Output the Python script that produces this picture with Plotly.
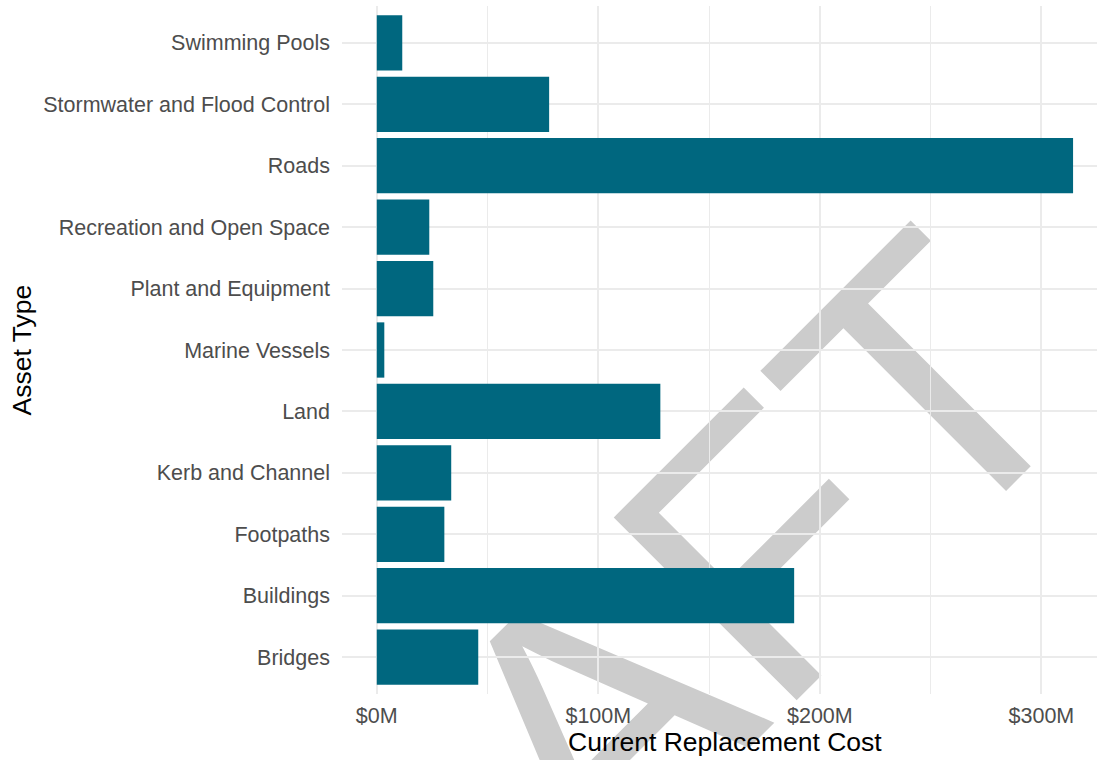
import plotly.graph_objects as go

# Asset register summary: current replacement cost by asset type ($ millions)
asset_types = [
    "Bridges",
    "Buildings",
    "Footpaths",
    "Kerb and Channel",
    "Land",
    "Marine Vessels",
    "Plant and Equipment",
    "Recreation and Open Space",
    "Roads",
    "Stormwater and Flood Control",
    "Swimming Pools",
]
replacement_cost_m = [45.8, 188.4, 30.5, 33.6, 128.0, 3.4, 25.5, 23.7, 314.3, 77.8, 11.5]

x_tick_values = [0, 100, 200, 300]
x_tick_labels = ["$0M", "$100M", "$200M", "$300M"]
x_minor_values = [50, 150, 250]

W, H = 1097, 760
PANEL_L, PANEL_R, PANEL_T, PANEL_B = 341.7, 1097, 6, 694
PANEL_W = PANEL_R - PANEL_L
PANEL_H = PANEL_B - PANEL_T


def px_to_paper(px, py):
    return (px - PANEL_L) / PANEL_W, (PANEL_B - py) / PANEL_H


FONT = "Liberation Sans, Arial, Helvetica, sans-serif"
BAR_COLOR = "#00677F"
GRID = "#EBEBEB"

fig = go.Figure(
    go.Bar(
        x=replacement_cost_m,
        y=asset_types,
        orientation="h",
        marker=dict(color=BAR_COLOR, line=dict(width=0)),
        width=0.9,
        hoverinfo="x+y",
    )
)

# watermark behind the panel grid
wx, wy = px_to_paper(539, 723)
fig.add_shape(
    type="rect",
    xref="paper",
    yref="paper",
    x0=wx - 0.001,
    x1=wx + 0.001,
    y0=wy - 0.001,
    y1=wy + 0.001,
    line=dict(width=0),
    fillcolor="rgba(0,0,0,0)",
    layer="below",
    label=dict(
        text="DRAFT",
        textangle=-45,
        textposition="middle center",
        font=dict(family=FONT, size=376, color="#CCCCCC"),
    ),
)

tx, ty = px_to_paper(724.4, 742)
ax_x, ax_y = px_to_paper(22, 350)

fig.update_layout(
    width=W,
    height=H,
    margin=dict(l=PANEL_L, r=W - PANEL_R, t=PANEL_T, b=H - PANEL_B, pad=0),
    paper_bgcolor="white",
    plot_bgcolor="rgba(0,0,0,0)",
    showlegend=False,
    bargap=0.1,
    font=dict(family=FONT, color="#4D4D4D"),
    xaxis=dict(
        range=[-15.7, 325.1],
        tickvals=x_tick_values,
        ticktext=x_tick_labels,
        showgrid=True,
        gridcolor=GRID,
        gridwidth=2,
        zeroline=False,
        showline=False,
        ticks="",
        ticklabelstandoff=6,
        tickfont=dict(family=FONT, size=21.5, color="#4D4D4D"),
        minor=dict(tickvals=x_minor_values, showgrid=True, gridcolor=GRID, gridwidth=1),
        fixedrange=True,
    ),
    yaxis=dict(
        type="category",
        categoryorder="array",
        categoryarray=asset_types,
        range=[-0.6, 10.6],
        showgrid=True,
        gridcolor=GRID,
        gridwidth=2,
        zeroline=False,
        showline=False,
        ticks="",
        ticklabelstandoff=11,
        tickfont=dict(family=FONT, size=21.5, color="#4D4D4D"),
        fixedrange=True,
    ),
    annotations=[
        dict(
            text="Current Replacement Cost",
            xref="paper",
            yref="paper",
            x=tx,
            y=ty,
            xanchor="center",
            yanchor="middle",
            showarrow=False,
            font=dict(family=FONT, size=26.5, color="black"),
        ),
        dict(
            text="Asset Type",
            xref="paper",
            yref="paper",
            x=ax_x,
            y=ax_y,
            xanchor="center",
            yanchor="middle",
            textangle=-90,
            showarrow=False,
            font=dict(family=FONT, size=26.5, color="black"),
        ),
    ],
)

fig.write_html("out.html", config={"displayModeBar": False})
